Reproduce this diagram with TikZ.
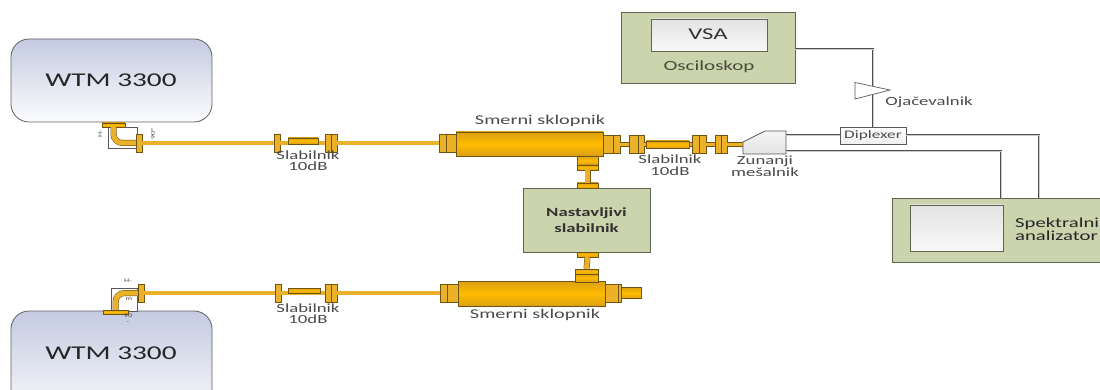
\documentclass[tikz,border=0pt]{standalone}
\usepackage{fontspec}
\setmainfont{Carlito}[FakeStretch=1.5]
\definecolor{wgedge}{HTML}{6E5514}
\definecolor{wggold}{HTML}{EBB128}
\definecolor{wgbright}{HTML}{FFBC00}
\definecolor{wgdark}{HTML}{DDA012}
\definecolor{boxgreen}{HTML}{CBD4AC}
\definecolor{boxedge}{HTML}{5F6650}
\definecolor{sigedge}{HTML}{4E4E4E}
\definecolor{wtmblue}{HTML}{C4CBE1}
\definecolor{txtgray}{HTML}{4A4A4A}
\tikzset{
  flange/.style={draw=wgedge,fill=wggold,inner sep=0pt,minimum width=#1,minimum height=18pt},
  flange/.default=6pt,
  wgbody/.style={draw=wgedge,inner sep=0pt,top color=wgdark,bottom color=wgdark,middle color=wgbright},
  wgline/.style={draw=wgedge,line width=.5pt,double=wggold,double distance=3.4pt},
  wgbend/.style={draw=wgedge,line width=.5pt,double=wggold,double distance=5pt,rounded corners=9pt},
  instr/.style={draw=boxedge,line width=.9pt,fill=boxgreen,inner sep=0pt},
  screenbox/.style={draw=boxedge,line width=.8pt,inner sep=0pt,top color=gray!22,bottom color=gray!5},
  wtmbox/.style={draw=gray!75!black,line width=.8pt,rounded corners=18pt,inner sep=0pt,minimum width=201pt},
  sigline/.style={draw=sigedge,line width=.65pt,double=gray!40,double distance=.7pt},
  lbl/.style={font=\fontsize{12.5}{11.5}\selectfont,text=txtgray,align=center,inner sep=0pt},
  tiny/.style={font=\fontsize{5.5}{6}\selectfont,text=black!70,inner sep=0pt},
  bendbox/.style={draw=gray!70!black,line width=.5pt,fill=white,inner sep=0pt},
}
\begin{document}
\begin{tikzpicture}[x=1pt,y=-1pt,line cap=butt,line join=miter]
\useasboundingbox (0,0) rectangle (1100,390);

\def\yA{143}
\def\yB{293}
\def\yC{144.5}

% generators
\node[wtmbox,minimum height=83pt,top color=wtmblue,bottom color=white!95!wtmblue] (wtmA) at (111.5,80.5) {};
\node[wtmbox,minimum height=100pt,top color=wtmblue,bottom color=white!85!wtmblue] (wtmB) at (111.5,361) {};
\node[font=\fontsize{19.5}{19}\selectfont,text=black!85,inner sep=0pt] (wtmAt) at (111,80) {WTM 3300};
\node[font=\fontsize{19.5}{19}\selectfont,text=black!85,inner sep=0pt] (wtmBt) at (111,353) {WTM 3300};

% upper bend
\node[bendbox,minimum width=29pt,minimum height=21pt] (bendA) at (122.5,137.5) {};
\node[wgbody,minimum width=23pt,minimum height=4pt] (portA) at (113.5,125) {};
\node[flange] (bendAe) at (139,\yA) {};
\draw[wgbend] (portA.south) |- (bendAe.west);
\node[tiny,rotate=90] (bendAh) at (100,134) {H-};
\node[tiny,rotate=90] (bendAd) at (153,134) {90°};

% lower bend
\node[bendbox,minimum width=26pt,minimum height=23pt] (bendB) at (124,299.5) {};
\node[wgbody,minimum width=25pt,minimum height=4pt] (portB) at (115.5,312) {};
\node[flange] (bendBe) at (141,\yB) {};
\draw[wgbend] (portB.north) |- (bendBe.west);
\node[tiny] (bendBh) at (128,281) {H-};
\node[tiny] (bendBm) at (129,299) {m};
\node[tiny] (bendBd) at (128,316) {90};
\node[tiny] (bendBs) at (128,323) {-};

% upper attenuator
\node[flange] (atAa) at (277,\yA) {};
\node[flange] (atAc) at (328,\yA) {};
\node[flange] (atAd) at (334,\yA) {};

% lower attenuator
\node[flange] (atBa) at (278,\yB) {};
\node[flange] (atBc) at (328,\yB) {};
\node[flange] (atBd) at (334,\yB) {};

% upper coupler
\node[flange=7pt] (cpAa) at (442.5,\yA) {};
\node[flange=10pt] (cpAb) at (451,\yA) {};
\node[wgbody,minimum width=147pt,minimum height=24pt] (cpA) at (529.5,144) {};
\node[flange=10pt] (cpAc) at (608,\yC) {};
\node[flange=7pt] (cpAd) at (616.5,\yC) {};
\node[lbl,font=\fontsize{13.5}{14}\selectfont] (cpAt) at (540,121) {Smerni sklopnik};

% upper attenuator after the coupler
\node[flange=9pt] (atCa) at (633.5,\yC) {};
\node[flange=6pt] (atCb) at (641,\yC) {};
\node[flange=7pt] (atCd) at (695.5,\yC) {};
\node[flange=7pt] (atCe) at (702.5,\yC) {};
\node[flange=6pt] (atCf) at (718,\yC) {};
\node[flange=6pt] (atCg) at (724,\yC) {};

% lower coupler
\node[flange=7pt] (cpBa) at (443.5,\yB) {};
\node[flange=11pt] (cpBb) at (452.5,\yB) {};
\node[wgbody,minimum width=147pt,minimum height=25pt] (cpB) at (531.5,293.5) {};
\node[flange=13pt] (cpBc) at (611.5,\yB) {};
\node[flange=3pt] (cpBd) at (619.5,\yB) {};
\node[wgbody,minimum width=20pt,minimum height=11pt] (cpBe) at (631,\yB) {};
\node[lbl,font=\fontsize{13.5}{14}\selectfont] (cpBt) at (535,315) {Smerni sklopnik};

% adjustable attenuator
\node[instr,minimum width=127pt,minimum height=64pt] (nast) at (586.5,220) {};
\node[lbl,font=\fontsize{12.5}{16}\bfseries\selectfont,text=black!80] (nastt) at (586.5,220) {Nastavljivi\\slabilnik};

% stems on the couplers
\node[wgbody,minimum width=21pt,minimum height=9pt] (stAa) at (587.5,160.5) {};
\node[wgbody,minimum width=21pt,minimum height=5pt] (stAb) at (587.5,167.5) {};
\node[wgbody,minimum width=21pt,minimum height=5pt] (stAc) at (587.5,185.5) {};
\draw[wgbend,double distance=5pt] (stAb.south) -- (stAc.north);
\node[wgbody,minimum width=21pt,minimum height=5pt] (stBa) at (587.5,254.5) {};
\node[wgbody,minimum width=23pt,minimum height=5pt] (stBb) at (586.5,271.5) {};
\node[wgbody,minimum width=23pt,minimum height=8pt] (stBc) at (586.5,278) {};
\draw[wgbend,double distance=5pt] (stBa.south) -- (stBb.north);

% waveguide runs
\draw[wgline] (bendAe.east) -- (atAa.west);
\draw[wgline] (atAa.east) -- (atAc.west);
\draw[wgline] (atAd.east) -- (cpAa.west);
\draw[wgline] (cpAd.east) -- (atCa.west);
\draw[wgline] (atCb.east) -- (atCd.west);
\draw[wgline] (atCe.east) -- (atCf.west);
\draw[wgline] (bendBe.east) -- (atBa.west);
\draw[wgline] (atBa.east) -- (atBc.west);
\draw[wgline] (atBd.east) -- (cpBa.west);

% attenuator cards on top of the runs
\node[wgbody,minimum width=30pt,minimum height=6pt] (atAb) at (303,141) {};
\node[wgbody,minimum width=32pt,minimum height=5pt] (atBb) at (304,290.5) {};
\node[wgbody,minimum width=43pt,minimum height=7pt] (atCc) at (667.5,\yC) {};
\node[lbl] (atAt) at (308,160.5) {Slabilnik\\10dB};
\node[lbl] (atBt) at (308,313.5) {Slabilnik\\10dB};
\node[lbl] (atCt) at (670,165) {Slabilnik\\10dB};

% mixer
\coordinate (mixIn) at (743,\yC);
\coordinate (mixOa) at (786,135.5);
\coordinate (mixOb) at (786,151);
\draw[wgline] (atCg.east) -- (mixIn);
\draw[draw=gray!70!black,line width=.7pt,top color=gray!8,bottom color=gray!22]
  (743,142) -- (765,131) -- (786,131) -- (786,154) -- (743,154) -- cycle;
\node[lbl] (mixt) at (765,166) {Zunanji\\mešalnik};

% instruments
\node[instr,minimum width=174pt,minimum height=71pt] (osc) at (708,47.5) {};
\node[screenbox,minimum width=116pt,minimum height=32pt] (vsa) at (709,35) {};
\node[font=\fontsize{16.5}{16}\selectfont,text=black!80,inner sep=0pt] (vsat) at (708,34) {VSA};
\node[lbl,font=\fontsize{14}{14}\selectfont,text=black!65!boxgreen] (osct) at (709,67) {Osciloskop};
\node[instr,minimum width=230pt,minimum height=64pt] (spec) at (1007,230) {};
\node[screenbox,minimum width=93pt,minimum height=46pt] (specs) at (956.5,228) {};
\node[lbl,anchor=west,align=left,font=\fontsize{13.8}{13}\selectfont,text=black!85] (spect) at (1015,229.5) {Spektralni\\analizator};
\node[draw=gray!70!black,line width=.8pt,top color=white,bottom color=gray!12,inner sep=0pt,
  minimum width=66pt,minimum height=17pt,font=\fontsize{11.5}{11}\selectfont,text=black!70] (dipl) at (873,135.5) {Diplexer};

% signal lines
\coordinate (oscOut) at (795,49.5);
\coordinate (specA) at (1001,198);
\coordinate (specB) at (1039,198);
\draw[sigline] (oscOut) -| (dipl.north);
\draw[sigline] (mixOa) -- (dipl.west);
\draw[sigline] (dipl.east) -| (specB);
\draw[sigline] (mixOb) -| (specA);

% amplifier
\draw[draw=gray!70!black,line width=.7pt,fill=white] (855,82.5) -- (855,99) -- (890,90) -- cycle;
\node[lbl] (ampt) at (929,102) {Ojačevalnik};
\end{tikzpicture}
\end{document}
